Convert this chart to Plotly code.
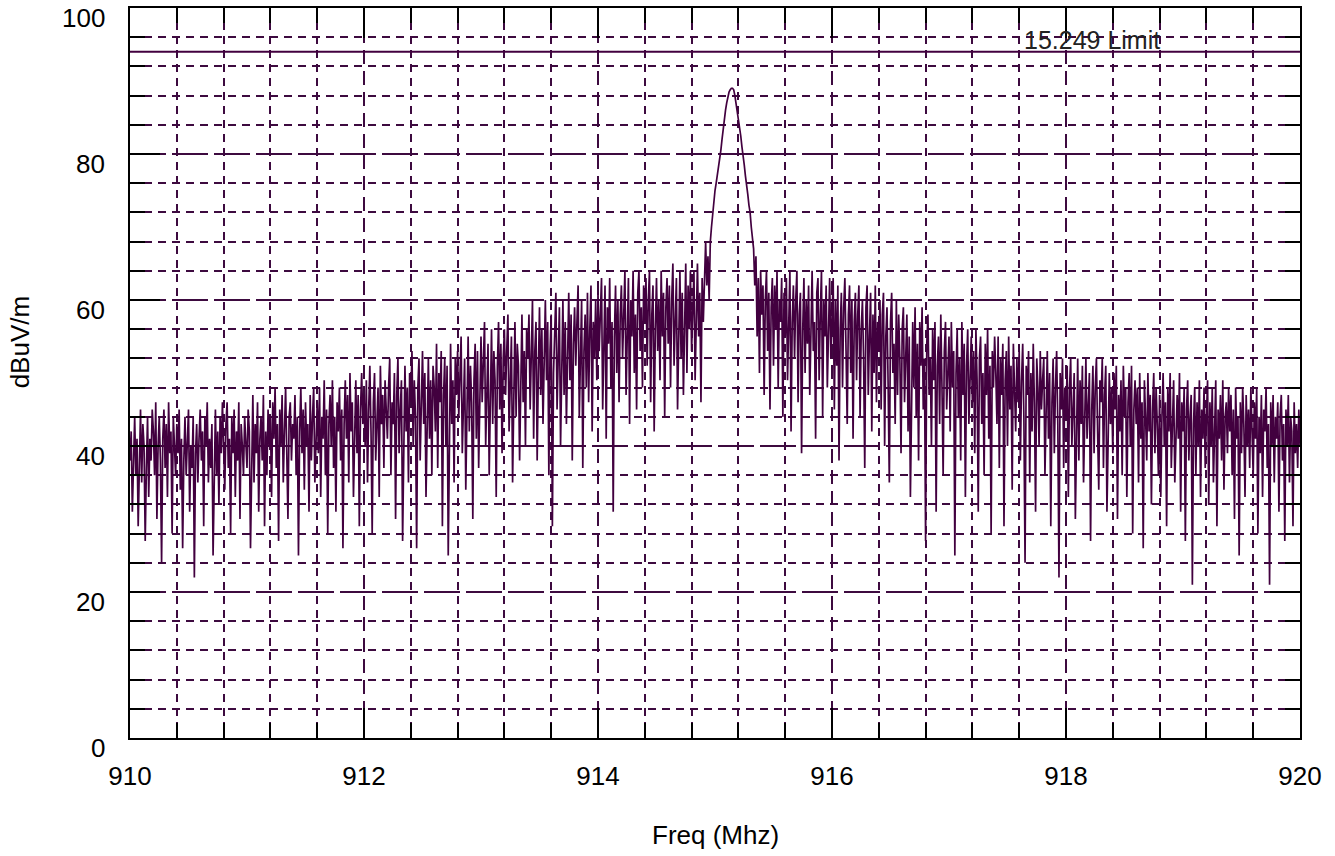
import numpy as np
import plotly.graph_objects as go

# ---------------- data ----------------
freq_start = 910.0
freq_stop = 920.0

level_dbuvm = [
    # 910.0
    38, 42, 31, 40, 44, 36, 41, 29, 39, 45, 35, 43, 40, 27, 37, 44, 33, 41, 38, 45,
    42, 36, 46, 30, 40, 44, 38, 24, 41, 45, 37, 43, 33, 46, 39, 42, 28, 44, 40, 36,
    43, 39, 45, 34, 41, 26, 38, 44, 36, 42, 45, 31, 40, 37, 44, 22, 39, 43, 35, 41,
    45, 38, 42, 29, 44, 40, 46, 35, 41, 37, 43, 25, 39, 45, 36, 42, 32, 44, 39, 46,
    40, 34, 43, 46, 37, 41, 28, 44, 39, 45, 33, 42, 38, 46, 30, 43, 40, 36, 44, 41,
    # 911.0
    37, 45, 42, 26, 40, 47, 35, 43, 39, 46, 31, 41, 44, 38, 47, 29, 42, 36, 45, 40,
    44, 33, 46, 41, 48, 37, 43, 27, 45, 40, 47, 35, 42, 48, 39, 30, 44, 46, 38, 43,
    41, 47, 36, 44, 25, 42, 48, 39, 45, 34, 46, 40, 43, 31, 47, 38, 44, 48, 35, 42,
    46, 39, 48, 33, 44, 41, 49, 36, 45, 28, 43, 47, 40, 49, 37, 44, 31, 46, 42, 48,
    38, 45, 26, 43, 49, 41, 47, 35, 50, 42, 46, 33, 44, 49, 39, 47, 29, 45, 50, 43,
    # 912.0
    47, 40, 49, 35, 45, 51, 42, 28, 46, 50, 38, 44, 48, 33, 51, 43, 47, 37, 49, 45,
    41, 48, 52, 36, 46, 43, 50, 30, 47, 52, 39, 45, 49, 27, 44, 51, 42, 48, 35, 50,
    46, 53, 40, 49, 44, 26, 48, 52, 38, 47, 53, 43, 50, 33, 46, 52, 41, 49, 36, 51,
    48, 42, 54, 37, 50, 46, 53, 29, 47, 52, 40, 51, 25, 45, 54, 43, 49, 35, 52, 47,
    53, 44, 50, 55, 39, 48, 52, 34, 47, 55, 42, 51, 46, 30, 49, 54, 41, 53, 37, 50,
    # 913.0
    55, 46, 52, 57, 40, 50, 54, 36, 48, 56, 43, 53, 49, 33, 51, 57, 45, 54, 39, 52,
    56, 47, 53, 58, 42, 50, 55, 35, 49, 57, 44, 54, 51, 38, 48, 58, 46, 53, 40, 56,
    52, 58, 45, 55, 60, 41, 53, 57, 38, 50, 59, 47, 56, 43, 54, 60, 49, 57, 36, 53,
    58, 29, 50, 56, 61, 45, 54, 59, 40, 52, 60, 47, 57, 43, 55, 61, 49, 58, 38, 54,
    59, 51, 57, 62, 44, 55, 60, 37, 53, 58, 48, 61, 46, 56, 62, 42, 57, 52, 60, 49,
    # 914.0
    61, 53, 58, 63, 45, 56, 62, 41, 59, 54, 63, 48, 57, 31, 55, 62, 50, 60, 46, 58,
    62, 52, 59, 64, 47, 57, 63, 43, 60, 55, 64, 50, 58, 45, 61, 64, 53, 59, 48, 62,
    57, 63, 51, 60, 64, 46, 58, 62, 42, 56, 63, 53, 60, 49, 64, 55, 61, 44, 59, 63,
    54, 62, 48, 60, 65, 51, 58, 63, 45, 57, 64, 52, 61, 47, 59, 65, 50, 62, 56, 64,
    53, 60, 64, 49, 58, 65, 55, 61, 46, 63, 57, 64, 68, 62, 66, 60, 68, 70, 72, 73.5,
    # 915.0
    75, 76, 77, 78, 79, 80.5, 82, 83.5, 85, 86, 87, 88, 88.5, 88.8, 89, 89, 88.8, 88, 87, 86,
    85, 84, 82.5, 81, 80, 78.5, 77, 76, 74.5, 73, 72, 70, 68, 67, 62, 66, 55, 63, 50, 64,
    58, 62, 47, 60, 64, 53, 61, 45, 59, 63, 51, 62, 56, 64, 48, 60, 57, 63, 44, 61,
    55, 63, 49, 59, 64, 42, 57, 62, 52, 60, 64, 46, 58, 61, 39, 56, 63, 50, 60, 54,
    62, 47, 59, 64, 53, 57, 41, 61, 63, 49, 58, 64, 44, 60, 55, 62, 48, 59, 63, 52,
    # 916.0
    57, 63, 45, 60, 51, 62, 38, 56, 61, 48, 59, 63, 53, 43, 58, 62, 50, 60, 41, 57,
    61, 49, 58, 62, 44, 56, 60, 52, 37, 59, 62, 47, 55, 61, 42, 58, 50, 62, 46, 57,
    53, 60, 45, 58, 61, 40, 55, 59, 48, 35, 57, 61, 50, 54, 43, 60, 47, 58, 52, 39,
    56, 59, 46, 53, 58, 42, 55, 33, 50, 57, 48, 59, 44, 54, 38, 57, 51, 59, 45, 52,
    27, 54, 58, 47, 52, 40, 56, 49, 57, 31, 51, 55, 43, 58, 48, 36, 53, 57, 45, 50,
    # 917.0
    55, 42, 57, 48, 53, 25, 50, 56, 44, 52, 38, 57, 47, 54, 33, 51, 56, 43, 49, 55,
    46, 53, 39, 56, 49, 31, 52, 55, 43, 50, 36, 54, 47, 56, 41, 51, 28, 53, 48, 55,
    50, 43, 55, 37, 52, 47, 54, 29, 49, 53, 40, 55, 45, 51, 34, 54, 48, 42, 52, 46,
    53, 38, 49, 54, 44, 24, 51, 47, 53, 35, 50, 42, 54, 46, 31, 52, 48, 40, 53, 45,
    49, 52, 36, 47, 53, 41, 50, 29, 46, 52, 39, 48, 53, 43, 22, 50, 45, 52, 37, 48,
    # 918.0
    44, 51, 33, 48, 52, 40, 46, 50, 30, 45, 52, 38, 49, 43, 51, 35, 47, 52, 41, 46,
    50, 27, 45, 51, 39, 48, 52, 42, 34, 49, 46, 52, 37, 47, 51, 31, 44, 50, 43, 48,
    39, 50, 45, 51, 30, 47, 42, 49, 36, 51, 44, 48, 33, 46, 50, 40, 51, 28, 45, 49,
    43, 48, 35, 50, 41, 46, 26, 49, 44, 38, 50, 42, 47, 32, 45, 50, 39, 48, 43, 36,
    47, 33, 44, 50, 40, 46, 29, 48, 42, 50, 37, 45, 49, 35, 43, 47, 41, 50, 31, 46,
    # 919.0
    42, 48, 27, 45, 49, 38, 44, 47, 21, 43, 48, 36, 46, 40, 49, 33, 45, 41, 48, 37,
    44, 49, 32, 46, 40, 48, 35, 43, 49, 29, 45, 41, 47, 38, 49, 34, 44, 46, 39, 48,
    42, 47, 36, 45, 30, 48, 41, 44, 25, 46, 39, 48, 43, 33, 47, 40, 45, 37, 48, 42,
    36, 46, 41, 48, 28, 44, 39, 47, 33, 45, 42, 48, 37, 43, 21, 46, 40, 47, 35, 44,
    41, 46, 31, 44, 47, 38, 43, 27, 45, 40, 47, 35, 44, 42, 29, 46, 39, 43, 37, 45,
    # 920.0
    40,
]

y_tick_values = [0, 20, 40, 60, 80, 100]
y_tick_labels = ["0", "20", "40", "60", "80", "100"]

limit_level = 94
limit_label = "15.249 Limit"
x_title = "Freq (Mhz)"
y_title = "dBuV/m"

assert len(level_dbuvm) == 1001, len(level_dbuvm)
freq_mhz = np.linspace(freq_start, freq_stop, len(level_dbuvm))

# ---------------- styles ----------------
PURPLE = "#42003f"
GRID = "#3d0a3f"
FONT = "Liberation Sans, Arial, sans-serif"
FS = 26

fig = go.Figure()
fig.add_trace(go.Scatter(
    x=freq_mhz, y=level_dbuvm, mode="lines",
    line=dict(color=PURPLE, width=1.7), hoverinfo="skip", showlegend=False,
))

# limit line
fig.add_trace(go.Scatter(
    x=[freq_start, freq_stop], y=[limit_level, limit_level], mode="lines",
    line=dict(color=PURPLE, width=2), hoverinfo="skip", showlegend=False,
))

axis_common = dict(
    showline=True, linecolor="black", linewidth=2, mirror="allticks",
    ticks="inside", ticklen=30, tickwidth=2, tickcolor="black",
    showgrid=True, gridcolor=GRID, gridwidth=2, griddash="14px,7px",
    zeroline=False, automargin=False,
    tickfont=dict(family=FONT, size=FS, color="black"),
)

fig.update_xaxes(
    range=[freq_start, freq_stop], tick0=910, dtick=2,
    minor=dict(dtick=0.4, showgrid=True, gridcolor=GRID, gridwidth=2,
               griddash="8px,6px", ticks="inside", ticklen=15,
               tickwidth=2, tickcolor="black"),
    ticklabelstandoff=14,
    **axis_common,
)
fig.update_yaxes(
    range=[0, 100], tickmode="array", tickvals=y_tick_values,
    showticklabels=False,
    minor=dict(dtick=4, tick0=0, showgrid=True, gridcolor=GRID, gridwidth=2,
               griddash="8px,6px", ticks="inside", ticklen=15,
               tickwidth=2, tickcolor="black"),
    **axis_common,
)

# y tick labels (sit just below their tick, as in the original)
for v, lab in zip(y_tick_values, y_tick_labels):
    fig.add_annotation(
        x=0, y=v, xref="paper", yref="y", text=lab, showarrow=False,
        xanchor="right", yanchor="middle", xshift=-23, yshift=-10,
        font=dict(family=FONT, size=FS, color="black"),
    )

fig.add_annotation(
    x=918.22, y=95.6, xref="x", yref="y", text=limit_label, showarrow=False,
    font=dict(family=FONT, size=25, color="#222222"),
)
fig.add_annotation(
    x=0.5, y=-0.133, xref="paper", yref="paper", text=x_title, showarrow=False,
    xanchor="center", yanchor="middle",
    font=dict(family=FONT, size=FS, color="black"),
)
fig.add_annotation(
    x=-0.094, y=0.542, xref="paper", yref="paper", text=y_title, showarrow=False,
    textangle=-90, xanchor="center", yanchor="middle",
    font=dict(family=FONT, size=FS, color="black"),
)

fig.update_layout(
    width=1335, height=856,
    margin=dict(l=130, r=35, t=8, b=118),
    plot_bgcolor="white", paper_bgcolor="white",
    showlegend=False,
)

fig.write_html(
    "out.html",
    config={"displayModeBar": False},
    post_script="document.body.style.margin='0';",
)
